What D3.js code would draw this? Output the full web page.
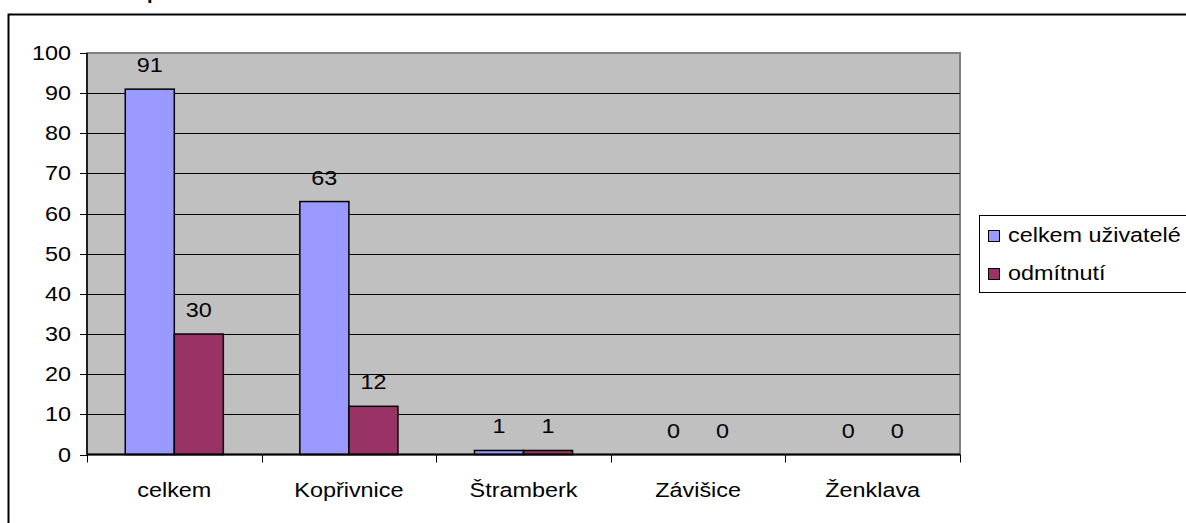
<!DOCTYPE html>
<html><head><meta charset="utf-8">
<script src="https://cdn.jsdelivr.net/npm/d3@7"></script>
<style>
html,body{margin:0;padding:0;background:#fff;overflow:hidden;}
text{font-family:"Liberation Sans",Arial,sans-serif;}
</style></head>
<body>
<svg id="c" width="1186" height="523"></svg>
<script>
const categories = ["celkem", "Kopřivnice", "Štramberk", "Závišice", "Ženklava"];
const seriesNames = ["celkem uživatelé", "odmítnutí"];
const celkemUzivatele = [91, 63, 1, 0, 0];
const odmitnuti = [30, 12, 1, 0, 0];
const yTicks = [0, 10, 20, 30, 40, 50, 60, 70, 80, 90, 100];
const colors = ["#9999ff", "#993366"];

(function () {
const svg = d3.select("#c");
const pL = 87, pR = 960, pT = 53, pB = 454.5;
const FS = 19.5, SX = 1.2;

// place text with horizontal stretch around anchor point
function put(sel, fx, fy) {
  sel.attr("x", 0).attr("y", 0)
    .attr("transform", (d, i) => `translate(${fx(d, i)},${fy(d, i)}) scale(${SX},1)`);
}

// outer chart frame (extends past the window)
svg.append("rect").attr("x", 8.5).attr("y", 14.5).attr("width", 1200).attr("height", 600)
  .attr("fill", "#fff").attr("stroke", "#000").attr("stroke-width", 2);
// cut-off title (only descender visible)
svg.append("text").attr("x", 147).attr("y", -1).attr("font-weight", "bold").attr("font-size", 20).text("p");

const x = d3.scaleBand().domain(categories).range([pL, pR]).paddingInner(0).paddingOuter(0);
const y = d3.scaleLinear().domain([0, 100]).range([pB, pT]);

// plot area
svg.append("rect").attr("x", pL).attr("y", pT).attr("width", pR - pL).attr("height", pB - pT)
  .attr("fill", "#c0c0c0").attr("stroke", "#808080").attr("stroke-width", 2);

// grid
svg.append("g").selectAll("line").data(yTicks.filter(d => d > 0 && d < 100)).join("line")
  .attr("x1", pL).attr("x2", pR).attr("y1", d => Math.round(y(d)) + 0.5).attr("y2", d => Math.round(y(d)) + 0.5)
  .attr("stroke", "#000").attr("stroke-width", 1);

// bars
const bw = x.bandwidth();
const barW = bw / (2 + 1.56);
const x1 = d3.scaleBand().domain([0, 1]).range([(bw - 2 * barW) / 2, (bw + 2 * barW) / 2]);
const series = [celkemUzivatele, odmitnuti];
series.forEach((vals, si) => {
  const g = svg.append("g");
  g.selectAll("rect").data(vals).join("rect")
    .attr("x", (d, i) => x(categories[i]) + x1(si))
    .attr("y", d => y(d))
    .attr("width", x1.bandwidth())
    .attr("height", d => y(0) - y(d))
    .attr("fill", colors[si]).attr("stroke", "#000").attr("stroke-width", 1.5);
  const t = g.selectAll("text").data(vals).join("text")
    .attr("text-anchor", "middle").attr("font-size", FS).attr("fill", "#000")
    .text(d => d);
  put(t, (d, i) => x(categories[i]) + x1(si) + x1.bandwidth() / 2, d => y(d) - 17);
});

// y axis
const ya = svg.append("g");
ya.append("line").attr("x1", pL).attr("x2", pL).attr("y1", pT).attr("y2", pB).attr("stroke", "#000").attr("stroke-width", 1.5);
ya.selectAll("line.tk").data(yTicks).join("line").attr("class", "tk")
  .attr("x1", pL - 7).attr("x2", pL).attr("y1", d => Math.round(y(d)) + 0.5).attr("y2", d => Math.round(y(d)) + 0.5)
  .attr("stroke", "#000");
const yl = ya.selectAll("text").data(yTicks).join("text")
  .attr("text-anchor", "end").attr("font-size", FS).attr("fill", "#000").text(d => d);
put(yl, () => pL - 16, d => y(d) + 7);

// x axis
const xa = svg.append("g");
xa.append("line").attr("x1", pL).attr("x2", pR).attr("y1", pB).attr("y2", pB).attr("stroke", "#000").attr("stroke-width", 2);
const bounds = categories.map(c => x(c)).concat([pR]);
xa.selectAll("line.tk").data(bounds).join("line").attr("class", "tk")
  .attr("x1", d => Math.round(d) + 0.5).attr("x2", d => Math.round(d) + 0.5).attr("y1", pB).attr("y2", pB + 8).attr("stroke", "#000");
const xl = xa.selectAll("text").data(categories).join("text")
  .attr("text-anchor", "middle").attr("font-size", FS).attr("fill", "#000").text(d => d);
put(xl, d => x(d) + bw / 2, () => 497);

// legend
const lg = svg.append("g");
lg.append("rect").attr("x", 979.5).attr("y", 215.5).attr("width", 215).attr("height", 77)
  .attr("fill", "#fff").attr("stroke", "#000").attr("stroke-width", 1);
seriesNames.forEach((n, i) => {
  const base = 242 + i * 38;
  lg.append("rect").attr("x", 988.5).attr("y", base - 11.5).attr("width", 11).attr("height", 11)
    .attr("fill", colors[i]).attr("stroke", "#000").attr("stroke-width", 1);
  const t = lg.append("text").attr("font-size", FS).attr("fill", "#000").text(n);
  put(t, () => 1008, () => base);
});
})();
</script>
</body></html>
